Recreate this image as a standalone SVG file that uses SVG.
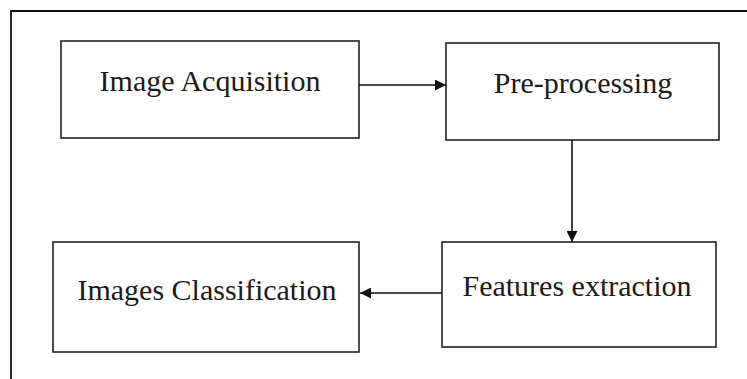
<svg xmlns="http://www.w3.org/2000/svg" width="747" height="379" viewBox="0 0 747 379">
<defs>
<style>
.box{fill:#fff;stroke:#222;stroke-width:1.6}
.lbl{font-family:"Liberation Serif","Times New Roman",serif;font-size:30px;fill:#1a1a1a;text-anchor:middle}
.conn{stroke:#111;stroke-width:1.6;fill:none}
</style>
<marker id="ah" markerWidth="11" markerHeight="11" refX="11" refY="5.5" orient="auto" markerUnits="userSpaceOnUse">
<path d="M0,0 L11,5.5 L0,11 Z" fill="#111"/>
</marker>
</defs>
<rect width="747" height="379" fill="#fff"/>
<path d="M11,379 V11 H760" fill="none" stroke="#111" stroke-width="1.8"/>
<g id="n1">
<rect class="box" x="61" y="41" width="298" height="97"/>
<text class="lbl" x="210" y="91">Image Acquisition</text>
</g>
<g id="n2">
<rect class="box" x="446" y="43" width="273" height="97"/>
<text class="lbl" x="583" y="93">Pre-processing</text>
</g>
<g id="n3">
<rect class="box" x="442" y="242" width="274" height="105"/>
<text class="lbl" x="577" y="296">Features extraction</text>
</g>
<g id="n4">
<rect class="box" x="53" y="242" width="306" height="110"/>
<text class="lbl" x="207" y="300">Images Classification</text>
</g>
<g id="connectors">
<line class="conn" x1="359" y1="85" x2="446" y2="85" marker-end="url(#ah)"/>
<line class="conn" x1="572" y1="140" x2="572" y2="242" marker-end="url(#ah)"/>
<line class="conn" x1="442" y1="293" x2="360" y2="293" marker-end="url(#ah)"/>
</g>
</svg>
